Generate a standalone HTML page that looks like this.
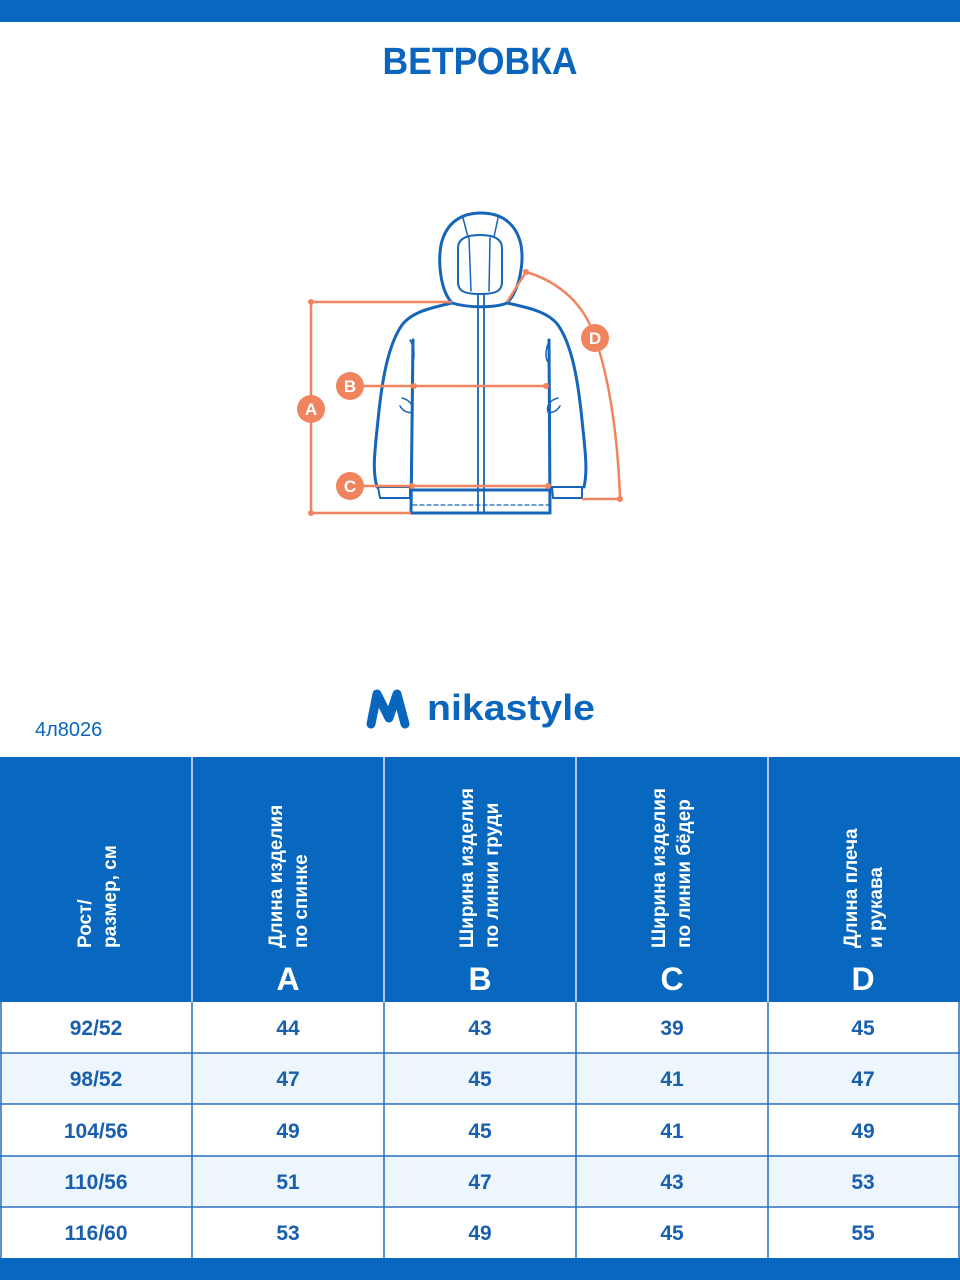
<!DOCTYPE html>
<html><head><meta charset="utf-8"><style>
html,body{margin:0;padding:0;background:#fff;}
svg{display:block;}
text{font-family:"Liberation Sans",sans-serif;}
</style></head><body>
<svg width="960" height="1280" viewBox="0 0 960 1280" xmlns="http://www.w3.org/2000/svg">
<rect x="0" y="0" width="960" height="22" fill="#0868c0"/>
<text x="480" y="74" text-anchor="middle" font-size="38" font-weight="bold" fill="#0a66bd" textLength="195" lengthAdjust="spacingAndGlyphs">ВЕТРОВКА</text>

<!-- jacket -->
<g fill="none" stroke="#1565b8" stroke-width="3" stroke-linejoin="round" stroke-linecap="round">
<path d="M452,303 C440,290 438,262 441,245 C446,222 462,213 481,213 C500,213 516,222 521,245 C524,262 520,290 507,303 C495,308 468,308 452,303 Z"/>
<path d="M458,248 C458,238 468,235 480,235 C492,235 502,238 502,248 L502,282 C502,292 494,294 480,294 C466,294 458,292 458,282 Z" stroke-width="2"/>
<path d="M463,218 L468,237 M498,218 L494,237 M469,238 L471,291 M490,238 L489,291" stroke-width="1.5"/>
<path d="M452,303 C430,308 412,312 402,325 C388,345 382,380 378,420 C375,450 372,470 377,487"/>
<path d="M507,303 C530,308 548,312 558,325 C572,345 578,380 582,420 C585,450 588,470 584,487"/>
<path d="M413,340 L411,513 M549,340 L550,513"/>
<path d="M411,490 L550,490 M411,513 L550,513"/>
<path d="M413,505 L549,505" stroke-width="1.2" stroke-dasharray="4,3"/>
<path d="M378,487 L410,487 L410,498 L380,498 Z M552,487 L582,487 L582,498 L553,498 Z" stroke-width="2"/>
<path d="M478,295 L478,513 M484,295 L484,513" stroke-width="1.8"/>
<path d="M410,340 C416,350 414,360 412,362 M550,340 C544,350 546,360 548,362" stroke-width="1.5"/>
<path d="M402,398 C410,400 414,406 412,412 C408,414 402,410 400,406 M558,398 C550,400 546,406 548,412 C552,414 558,410 560,406" stroke-width="1.5"/>
</g>
<!-- orange measurement -->
<g stroke="#f0845e" stroke-width="2.5" fill="none">
<path d="M311,302 L452,302 M311,302 L311,513 L411,513"/>
<path d="M350,386 L546,386"/>
<path d="M350,486 L548,486"/>
<path d="M507,302 L526,272 C560,282 585,305 595,338 C610,380 618,440 620,499 L582,499"/>
</g>
<g fill="#f0845e">
<circle cx="311" cy="302" r="3"/><circle cx="311" cy="513" r="3"/>
<circle cx="414" cy="386" r="3"/><circle cx="546" cy="386" r="3"/>
<circle cx="412" cy="486" r="3"/><circle cx="548" cy="486" r="3"/>
<circle cx="526" cy="272" r="3"/><circle cx="620" cy="499" r="3"/>
<circle cx="311" cy="409" r="14"/><circle cx="350" cy="386" r="14"/>
<circle cx="350" cy="486" r="14"/><circle cx="595" cy="338" r="14"/>
</g>
<g fill="#fff" font-size="17" font-weight="bold" text-anchor="middle">
<text x="311" y="415">A</text><text x="350" y="392">B</text>
<text x="350" y="492">C</text><text x="595" y="344">D</text>
</g>

<!-- logo -->
<path d="M371,724 L377,694 L389,718 L397,694 L405,724" fill="none" stroke="#0a66bd" stroke-width="9" stroke-linejoin="round" stroke-linecap="round"/>
<text x="427" y="720" font-size="36" font-weight="bold" fill="#0a66bd" textLength="168" lengthAdjust="spacingAndGlyphs">nikastyle</text>
<text x="35" y="736" font-size="20" fill="#0a66bd">4л8026</text>

<!-- table header -->
<rect x="0" y="757" width="960" height="245" fill="#0868c0"/>
<g stroke="#dfe9f5" stroke-width="1.5">
<line x1="192" y1="757" x2="192" y2="1002"/><line x1="384" y1="757" x2="384" y2="1002"/>
<line x1="576" y1="757" x2="576" y2="1002"/><line x1="768" y1="757" x2="768" y2="1002"/>
</g>
<g fill="#fff" font-size="19" font-weight="bold">
<text transform="translate(91,948) rotate(-90)">Рост/</text>
<text transform="translate(116,948) rotate(-90)">размер, см</text>
<text transform="translate(282,948) rotate(-90)">Длина изделия</text>
<text transform="translate(307,948) rotate(-90)">по спинке</text>
<text transform="translate(473,948) rotate(-90)">Ширина изделия</text>
<text transform="translate(498,948) rotate(-90)">по линии груди</text>
<text transform="translate(665,948) rotate(-90)">Ширина изделия</text>
<text transform="translate(690,948) rotate(-90)">по линии бёдер</text>
<text transform="translate(857,948) rotate(-90)">Длина плеча</text>
<text transform="translate(882,948) rotate(-90)">и рукава</text>
</g>
<g fill="#fff" font-size="32" font-weight="bold" text-anchor="middle">
<text x="288" y="990">A</text><text x="480" y="990">B</text><text x="672" y="990">C</text><text x="863" y="990">D</text>
</g>

<!-- rows -->
<rect x="0" y="1053" width="960" height="51" fill="#eef6fd"/>
<rect x="0" y="1156" width="960" height="51" fill="#eef6fd"/>
<g stroke="#2a6fbf" stroke-width="1.5">
<line x1="0" y1="1053" x2="960" y2="1053"/><line x1="0" y1="1104" x2="960" y2="1104"/>
<line x1="0" y1="1156" x2="960" y2="1156"/><line x1="0" y1="1207" x2="960" y2="1207"/>
<line x1="192" y1="1002" x2="192" y2="1258"/><line x1="384" y1="1002" x2="384" y2="1258"/>
<line x1="576" y1="1002" x2="576" y2="1258"/><line x1="768" y1="1002" x2="768" y2="1258"/>
<line x1="1" y1="1002" x2="1" y2="1258"/><line x1="959" y1="1002" x2="959" y2="1258"/>
</g>
<g fill="#1a5fae" font-size="21" font-weight="bold" text-anchor="middle">
<text x="96" y="1035">92/52</text><text x="288" y="1035">44</text><text x="480" y="1035">43</text><text x="672" y="1035">39</text><text x="863" y="1035">45</text>
<text x="96" y="1086">98/52</text><text x="288" y="1086">47</text><text x="480" y="1086">45</text><text x="672" y="1086">41</text><text x="863" y="1086">47</text>
<text x="96" y="1138">104/56</text><text x="288" y="1138">49</text><text x="480" y="1138">45</text><text x="672" y="1138">41</text><text x="863" y="1138">49</text>
<text x="96" y="1189">110/56</text><text x="288" y="1189">51</text><text x="480" y="1189">47</text><text x="672" y="1189">43</text><text x="863" y="1189">53</text>
<text x="96" y="1240">116/60</text><text x="288" y="1240">53</text><text x="480" y="1240">49</text><text x="672" y="1240">45</text><text x="863" y="1240">55</text>
</g>
<rect x="0" y="1258" width="960" height="22" fill="#0868c0"/>
</svg>
</body></html>
